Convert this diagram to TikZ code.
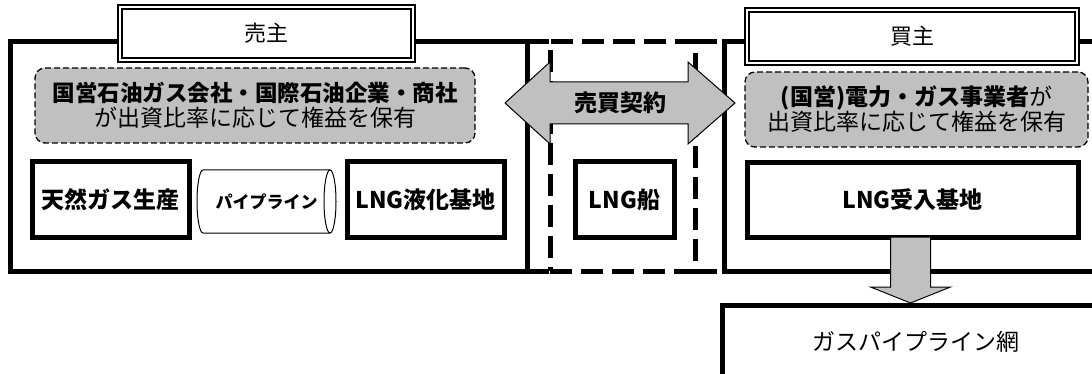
\documentclass[tikz,border=0pt]{standalone}
\usepackage{fontspec}
\setmainfont{Noto Sans CJK JP}
\usetikzlibrary{calc}
\definecolor{boxgray}{RGB}{192,192,192}
\begin{document}
\begin{tikzpicture}[x=1pt,y=-1pt,
  every node/.style={inner sep=0pt, outer sep=0pt},
  thickbox/.style={draw, line width=5pt, rectangle, align=center, font=\fontsize{23}{26}\selectfont\bfseries},
  lblbox/.style={draw, fill=white, line width=1.4pt, double=white, double distance=2.6pt, font=\fontsize{22}{25}\selectfont},
  graybox/.style={draw, fill=boxgray, rounded corners=10pt, line width=1.3pt, dash pattern=on 6pt off 3pt, align=center, font=\fontsize{23}{25}\selectfont},
  midline/.style={line width=5pt, dash pattern=on 22pt off 9pt},
  pipeline/.style={line width=1pt},
  arrowfill/.style={draw, fill=boxgray, line width=1pt, line join=miter}]
\useasboundingbox (0,0) rectangle (1092,374);
\clip (0,0) rectangle (1092,374);
% big frames
\node[thickbox, minimum width=517pt, minimum height=229pt] (seller) at (268.5,156.5) {};
\node[thickbox, minimum width=386pt, minimum height=229pt] (buyer) at (917,156.5) {};
\node[draw, midline, minimum width=145pt, minimum height=229pt] (mid) at (622.5,156.5) {};
\draw[midline] (seller.north east) -- (mid.north west) (mid.north east) -- (buyer.north west);
\draw[midline] (seller.south east) -- (mid.south west) (mid.south east) -- (buyer.south west);
% labels
\node[lblbox, minimum width=293pt, minimum height=53pt] (sellerlbl) at (266.5,33.5) {売主};
\node[lblbox, minimum width=330pt, minimum height=53pt] (buyerlbl) at (912,36.5) {買主};
% gray boxes
\node[graybox, minimum width=440pt, minimum height=75pt] (sellergray) at (255,105.5)
  {{\fontsize{22.5}{25}\selectfont\bfseries 国営石油ガス会社・国際石油企業・商社}\\が出資比率に応じて権益を保有};
\node[graybox, minimum width=343pt, minimum height=75pt] (buyergray) at (916.5,109.5)
  {{\bfseries (国営)電力・ガス事業者}が\\出資比率に応じて権益を保有};
% inner boxes
\node[thickbox, minimum width=157pt, minimum height=75pt] (gas) at (110.5,199.5) {天然ガス生産};
\node[minimum width=139pt, minimum height=63pt, font=\fontsize{17}{19}\selectfont\bfseries] (pipe) at (266.5,201.5) {パイプライン};
\draw[pipeline] ($(pipe.north east)+(-6,0)$) -- ($(pipe.north west)+(6,0)$)
  arc[start angle=90, end angle=270, x radius=6pt, y radius=31.5pt] -- ($(pipe.south east)+(-6,0)$);
\draw[pipeline] ($(pipe.east)+(-6,0)$) ellipse [x radius=6pt, y radius=31.5pt];
\node[thickbox, minimum width=157pt, minimum height=75pt] (liq) at (425.5,199.5) {LNG液化基地};
\node[thickbox, minimum width=99pt, minimum height=75pt] (ship) at (624.5,199.5) {LNG船};
\node[thickbox, minimum width=331pt, minimum height=74pt] (recv) at (912.5,200) {LNG受入基地};
\node[thickbox, minimum width=388pt, minimum height=74pt, font=\fontsize{23}{25}\selectfont] (net) at (916,342) {ガスパイプライン網};
% contract double arrow
\node (contract) at (620,103) {};
\draw[arrowfill] ($(contract)+(-115,0)$) -- ($(contract)+(-70,-41)$) -- ($(contract)+(-70,-21)$)
  -- ($(contract)+(68,-21)$) -- ($(contract)+(68,-41)$) -- ($(contract)+(115,0)$)
  -- ($(contract)+(68,41)$) -- ($(contract)+(68,21)$) -- ($(contract)+(-70,21)$)
  -- ($(contract)+(-70,41)$) -- cycle;
\node[font=\fontsize{23}{26}\selectfont\bfseries] at (contract) {売買契約};
% down arrow
\coordinate (tip) at ($(recv.south |- net.north)+(-2,-2)$);
\draw[arrowfill] ($(recv.south)+(-22,0)$) -- ($(recv.south)+(18,0)$) -- ($(recv.south)+(18,50)$)
  -- ($(recv.south)+(38,50)$) -- (tip) -- ($(recv.south)+(-42,50)$) -- ($(recv.south)+(-22,50)$) -- cycle;
\end{tikzpicture}
\end{document}
